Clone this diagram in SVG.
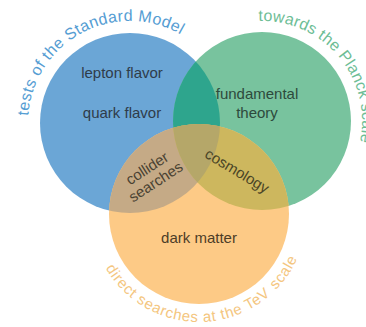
<svg xmlns="http://www.w3.org/2000/svg" xmlns:xlink="http://www.w3.org/1999/xlink" width="366" height="327" viewBox="0 0 366 327">
<style>
.lbl{font-family:"Liberation Sans",Arial,sans-serif;font-size:15px;text-anchor:middle}
.arcb{font-family:"Liberation Sans",Arial,sans-serif;font-size:16px;letter-spacing:0.4px;fill:#559dd3}
.arcg{font-family:"Liberation Sans",Arial,sans-serif;font-size:16px;letter-spacing:0.2px;fill:#6dbd95}
.arco{font-family:"Liberation Sans",Arial,sans-serif;font-size:15px;letter-spacing:0.7px;fill:#f4c680}
</style>
<defs>
<clipPath id="cb"><circle cx="130" cy="123" r="90"/></clipPath>
<clipPath id="cg"><circle cx="262" cy="121" r="89"/></clipPath>
<path id="arcB" d="M28.2,115.9 A102,102 0 0 1 218.3,72"/>
<path id="arcG" d="M244.6,22.5 A100,100 0 0 1 356,155.2"/>
<path id="arcO" d="M97.5,250.9 A108,108 0 0 0 303.3,241.95"/>
</defs>
<rect width="366" height="327" fill="#ffffff"/>
<g id="blue">
<circle cx="130" cy="123" r="90" fill="#6ba6d6"/>
</g>
<g id="green">
<circle cx="262" cy="121" r="89" fill="#78c39e"/>
</g>
<g id="orange">
<circle cx="199" cy="214" r="90" fill="#fdca86"/>
</g>
<g id="overlaps">
<g clip-path="url(#cb)"><circle cx="262" cy="121" r="89" fill="#2ea58d"/></g>
<g clip-path="url(#cb)"><circle cx="199" cy="214" r="90" fill="#c5aa86"/></g>
<g clip-path="url(#cg)"><circle cx="199" cy="214" r="90" fill="#cdb75e"/></g>
<g clip-path="url(#cb)"><g clip-path="url(#cg)"><circle cx="199" cy="214" r="90" fill="#b5a769"/></g></g>
</g>
<g id="blue-labels">
<text class="lbl" x="122" y="78" fill="#2f3c4a">lepton flavor</text>
<text class="lbl" x="122" y="118" fill="#2f3c4a">quark flavor</text>
<text class="arcb"><textPath xlink:href="#arcB" href="#arcB" startOffset="0">tests</textPath></text>
<text class="arcb"><textPath xlink:href="#arcB" href="#arcB" startOffset="40.6">of</textPath></text>
<text class="arcb"><textPath xlink:href="#arcB" href="#arcB" startOffset="59.6">the</textPath></text>
<text class="arcb"><textPath xlink:href="#arcB" href="#arcB" startOffset="87.8">Standard</textPath></text>
<text class="arcb"><textPath xlink:href="#arcB" href="#arcB" startOffset="160.8">Model</textPath></text>
</g>
<g id="green-labels">
<text class="lbl" x="257" y="99" fill="#2d4a3c">fundamental</text>
<text class="lbl" x="257" y="118" fill="#2d4a3c">theory</text>
<text class="arcg"><textPath xlink:href="#arcG" href="#arcG" startOffset="14">towards</textPath></text>
<text class="arcg"><textPath xlink:href="#arcG" href="#arcG" startOffset="76">the</textPath></text>
<text class="arcg"><textPath xlink:href="#arcG" href="#arcG" startOffset="103.5">Planck</textPath></text>
<text class="arcg"><textPath xlink:href="#arcG" href="#arcG" startOffset="157.4">scale</textPath></text>
</g>
<g id="orange-labels">
<text class="lbl" x="199" y="243" fill="#4d3d28">dark matter</text>
<text class="arco"><textPath xlink:href="#arcO" href="#arcO" startOffset="19">direct</textPath></text>
<text class="arco"><textPath xlink:href="#arcO" href="#arcO" startOffset="64.8">searches</textPath></text>
<text class="arco"><textPath xlink:href="#arcO" href="#arcO" startOffset="136.1">at</textPath></text>
<text class="arco"><textPath xlink:href="#arcO" href="#arcO" startOffset="154.9">the</textPath></text>
<text class="arco"><textPath xlink:href="#arcO" href="#arcO" startOffset="182.7">TeV</textPath></text>
<text class="arco"><textPath xlink:href="#arcO" href="#arcO" startOffset="217.2">scale</textPath></text>
</g>
<g id="collider-searches" transform="translate(152,176) rotate(-33)">
<text class="lbl" x="0" y="-4" fill="#4a4232">collider</text>
<text class="lbl" x="0" y="12" fill="#4a4232">searches</text>
</g>
<g id="cosmology" transform="translate(237,171) rotate(31)">
<text class="lbl" x="0" y="5" fill="#4a4526">cosmology</text>
</g>
</svg>
